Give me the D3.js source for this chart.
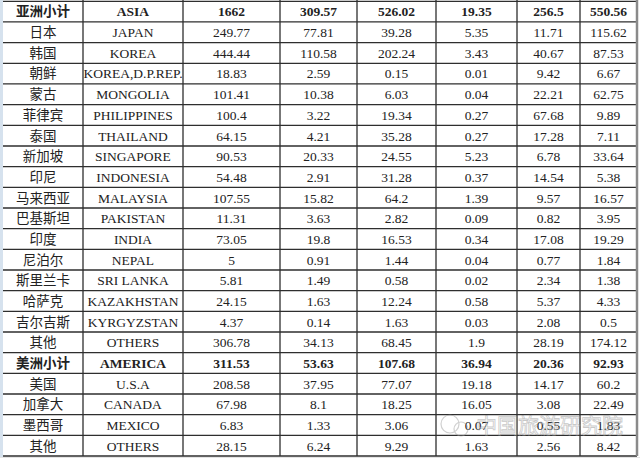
<!DOCTYPE html>
<html>
<head>
<meta charset="utf-8">
<script src="https://cdn.jsdelivr.net/npm/d3@7"></script>
<style>
  html, body { margin: 0; padding: 0; background: #fff; }
  svg { display: block; }
</style>
</head>
<body>
<div id="chart"></div>
<script>
// table data, one array per column
var namesZh = ["亚洲小计", "日本", "韩国", "朝鲜", "蒙古", "菲律宾", "泰国", "新加坡", "印尼", "马来西亚",
    "巴基斯坦", "印度", "尼泊尔", "斯里兰卡", "哈萨克", "吉尔吉斯", "其他",
    "美洲小计", "美国", "加拿大", "墨西哥", "其他"];
var namesEn = ["ASIA", "JAPAN", "KOREA", "KOREA,D.P.REP.", "MONGOLIA", "PHILIPPINES", "THAILAND", "SINGAPORE",
    "INDONESIA", "MALAYSIA", "PAKISTAN", "INDIA", "NEPAL", "SRI LANKA", "KAZAKHSTAN", "KYRGYZSTAN", "OTHERS",
    "AMERICA", "U.S.A", "CANADA", "MEXICO", "OTHERS"];
var col1 = ["1662", "249.77", "444.44", "18.83", "101.41", "100.4", "64.15", "90.53", "54.48", "107.55",
    "11.31", "73.05", "5", "5.81", "24.15", "4.37", "306.78", "311.53", "208.58", "67.98", "6.83", "28.15"];
var col2 = ["309.57", "77.81", "110.58", "2.59", "10.38", "3.22", "4.21", "20.33", "2.91", "15.82",
    "3.63", "19.8", "0.91", "1.49", "1.63", "0.14", "34.13", "53.63", "37.95", "8.1", "1.33", "6.24"];
var col3 = ["526.02", "39.28", "202.24", "0.15", "6.03", "19.34", "35.28", "24.55", "31.28", "64.2",
    "2.82", "16.53", "1.44", "0.58", "12.24", "1.63", "68.45", "107.68", "77.07", "18.25", "3.06", "9.29"];
var col4 = ["19.35", "5.35", "3.43", "0.01", "0.04", "0.27", "0.27", "5.23", "0.37", "1.39",
    "0.09", "0.34", "0.04", "0.02", "0.58", "0.03", "1.9", "36.94", "19.18", "16.05", "0.07", "1.63"];
var col5 = ["256.5", "11.71", "40.67", "9.42", "22.21", "67.68", "17.28", "6.78", "14.54", "9.57",
    "0.82", "17.08", "0.77", "2.34", "5.37", "2.08", "28.19", "20.36", "14.17", "3.08", "0.55", "2.56"];
var col6 = ["550.56", "115.62", "87.53", "6.67", "62.75", "9.89", "7.11", "33.64", "5.38", "16.57",
    "3.95", "19.29", "1.84", "1.38", "4.33", "0.5", "174.12", "92.93", "60.2", "22.49", "1.83", "8.42"];
var subtotalRows = [0, 17];

var layout = {
    width: 640,
    height: 458,
    top: 1.3,
    bottom: 456,
    colEdges: [3, 83, 183, 280, 357, 436, 517, 580, 637]
};

var columns = [namesZh, namesEn, col1, col2, col3, col4, col5, col6];

var svg = d3.select("#chart").append("svg")
    .attr("width", layout.width)
    .attr("height", layout.height);

// pale strip on the left edge
svg.append("rect")
    .attr("x", 0).attr("y", 0)
    .attr("width", 3).attr("height", layout.height)
    .attr("fill", "#d6e2ee");

var y = d3.scaleBand()
    .domain(d3.range(namesZh.length))
    .range([layout.top, layout.bottom]);

var lineColor = "#2e2e2e";

// horizontal rules
svg.append("g").selectAll("line")
    .data(d3.range(namesZh.length + 1))
    .enter().append("line")
    .attr("x1", layout.colEdges[0])
    .attr("x2", layout.colEdges[layout.colEdges.length - 1])
    .attr("y1", d => d < namesZh.length ? y(d) : layout.bottom)
    .attr("y2", d => d < namesZh.length ? y(d) : layout.bottom)
    .attr("stroke", lineColor)
    .attr("stroke-width", 1.3);

// vertical rules
svg.append("g").selectAll("line")
    .data(layout.colEdges.slice(1))
    .enter().append("line")
    .attr("x1", d => d).attr("x2", d => d)
    .attr("y1", 0).attr("y2", layout.bottom)
    .attr("stroke", (d, i) => i === layout.colEdges.length - 2 ? "#8a8a8a" : lineColor)
    .attr("stroke-width", (d, i) => i === layout.colEdges.length - 2 ? 2.5 : 1.3);

// bottom grey edge
svg.append("rect")
    .attr("x", 0).attr("y", layout.bottom + 1)
    .attr("width", layout.width).attr("height", layout.height - layout.bottom)
    .attr("fill", "#e4e4e4");

// cell texts
columns.forEach(function(col, c) {
    var cx = (layout.colEdges[c] + layout.colEdges[c + 1]) / 2;
    svg.append("g").selectAll("text")
        .data(col)
        .enter().append("text")
        .attr("x", cx)
        .attr("y", (d, i) => y(i) + y.bandwidth() / 2)
        .attr("dy", "0.36em")
        .attr("text-anchor", "middle")
        .attr("fill", "#222")
        .attr("font-family", c === 0 ? "'Noto Sans CJK SC', sans-serif" : "'Liberation Serif', 'Times New Roman', serif")
        .attr("font-size", c === 0 ? 13.5 : 13.5)
        .attr("font-weight", (d, i) => subtotalRows.indexOf(i) >= 0 ? "bold" : "normal")
        .text(d => d);
});

// watermark
var wm = svg.append("g").attr("opacity", 0.45);
wm.append("circle").attr("cx", 450).attr("cy", 424).attr("r", 9)
    .attr("fill", "none").attr("stroke", "#999").attr("stroke-width", 1.2);
wm.append("circle").attr("cx", 461).attr("cy", 429).attr("r", 7)
    .attr("fill", "none").attr("stroke", "#999").attr("stroke-width", 1.2);
wm.append("text")
    .attr("x", 476).attr("y", 433)
    .attr("font-family", "'Noto Sans CJK SC', sans-serif")
    .attr("font-size", 21)
    .attr("fill", "#fff")
    .attr("stroke", "#888")
    .attr("stroke-width", 0.8)
    .text("中国旅游研究院");
</script>
</body>
</html>
